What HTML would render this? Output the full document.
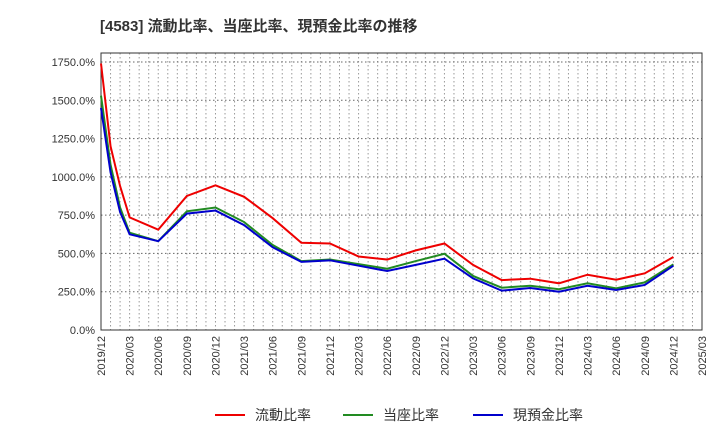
<!DOCTYPE html>
<html><head><meta charset="utf-8"><style>
body{margin:0;background:#fff;font-family:"Liberation Sans","Noto Sans CJK JP",sans-serif;}
</style></head><body>
<svg width="720" height="440" xmlns="http://www.w3.org/2000/svg" font-family="Liberation Sans, Noto Sans CJK JP, sans-serif">
<text x="100" y="31" font-size="15" font-weight="bold" fill="#333">[4583]  流動比率、当座比率、現預金比率の推移</text>
<g id="grid"></g><g id="axes"></g><g id="series"></g><g id="legend"></g>
</svg>
<script>
const xLabels=["2019/12","2020/03","2020/06","2020/09","2020/12","2021/03","2021/06","2021/09","2021/12","2022/03","2022/06","2022/09","2022/12","2023/03","2023/06","2023/09","2023/12","2024/03","2024/06","2024/09","2024/12","2025/03"];
const yTicks=[0,250,500,750,1000,1250,1500,1750];
const pts=[0,1,2,3,6,9,12,15,18,21,24,27,30,33,36,39,42,45,48,51,54,57,60];
const current=[1740,1200,940,735,655,875,945,870,730,570,565,480,460,520,565,425,326,335,305,361,328,370,477];
const quick=[1530,1080,800,635,580,775,800,705,555,450,460,430,400,450,498,353,276,289,266,305,272,311,429];
const cash=[1450,1030,770,625,580,760,780,685,540,445,455,420,385,425,466,337,257,274,250,289,261,294,420];
const L=101,R=702,T=53,B=330;
const X=m=>L+m*(R-L)/63;
const Y=v=>B-v*(B-62)/1750;
const NS="http://www.w3.org/2000/svg";
function mk(t,a,p){const e=document.createElementNS(NS,t);for(const k in a)e.setAttribute(k,a[k]);p.appendChild(e);return e;}
const grid=document.getElementById('grid'),axes=document.getElementById('axes'),ser=document.getElementById('series'),leg=document.getElementById('legend');
for(let m=1;m<63;m++){const l=mk('line',{x1:X(m),x2:X(m),y1:T,y2:B,stroke:'#999','stroke-dasharray':'1.5,2.5','stroke-width':1},grid);

}
yTicks.forEach(v=>{const l=mk('line',{x1:L,x2:R,y1:Y(v),y2:Y(v),stroke:'#666','stroke-dasharray':'1.5,2.5','stroke-width':1},grid);


const t=mk('text',{x:L-6,y:Y(v)+4,'text-anchor':'end','font-size':11,fill:'#333'},axes);t.textContent=v.toFixed(1)+'%';

});
xLabels.forEach((s,i)=>{const x=X(i*3);const t=mk('text',{transform:`translate(${x+4},${B+6}) rotate(-90)`,'text-anchor':'end','font-size':11,fill:'#333'},axes);t.textContent=s;

});
const fr=mk('rect',{x:L,y:T,width:R-L,height:B-T,fill:'none',stroke:'#333','stroke-width':1},axes);


const S=[["流動比率",current,"#e00","current-ratio-line"],["当座比率",quick,"#228b22","quick-ratio-line"],["現預金比率",cash,"#00c","cash-ratio-line"]];
S.forEach(([n,d,c,name])=>{const p=mk('polyline',{points:d.map((v,i)=>X(pts[i])+','+Y(v)).join(' '),fill:'none',stroke:c,'stroke-width':2},ser);

});
const lx=[215,343,473];
S.forEach(([n,d,c,name],i)=>{const g=mk('g',{},leg);


mk('line',{x1:lx[i],x2:lx[i]+30,y1:415,y2:415,stroke:c,'stroke-width':2},g);
const t=mk('text',{x:lx[i]+40,y:420,'font-size':14,fill:'#333'},g);t.textContent=n;});
</script>
</body></html>
